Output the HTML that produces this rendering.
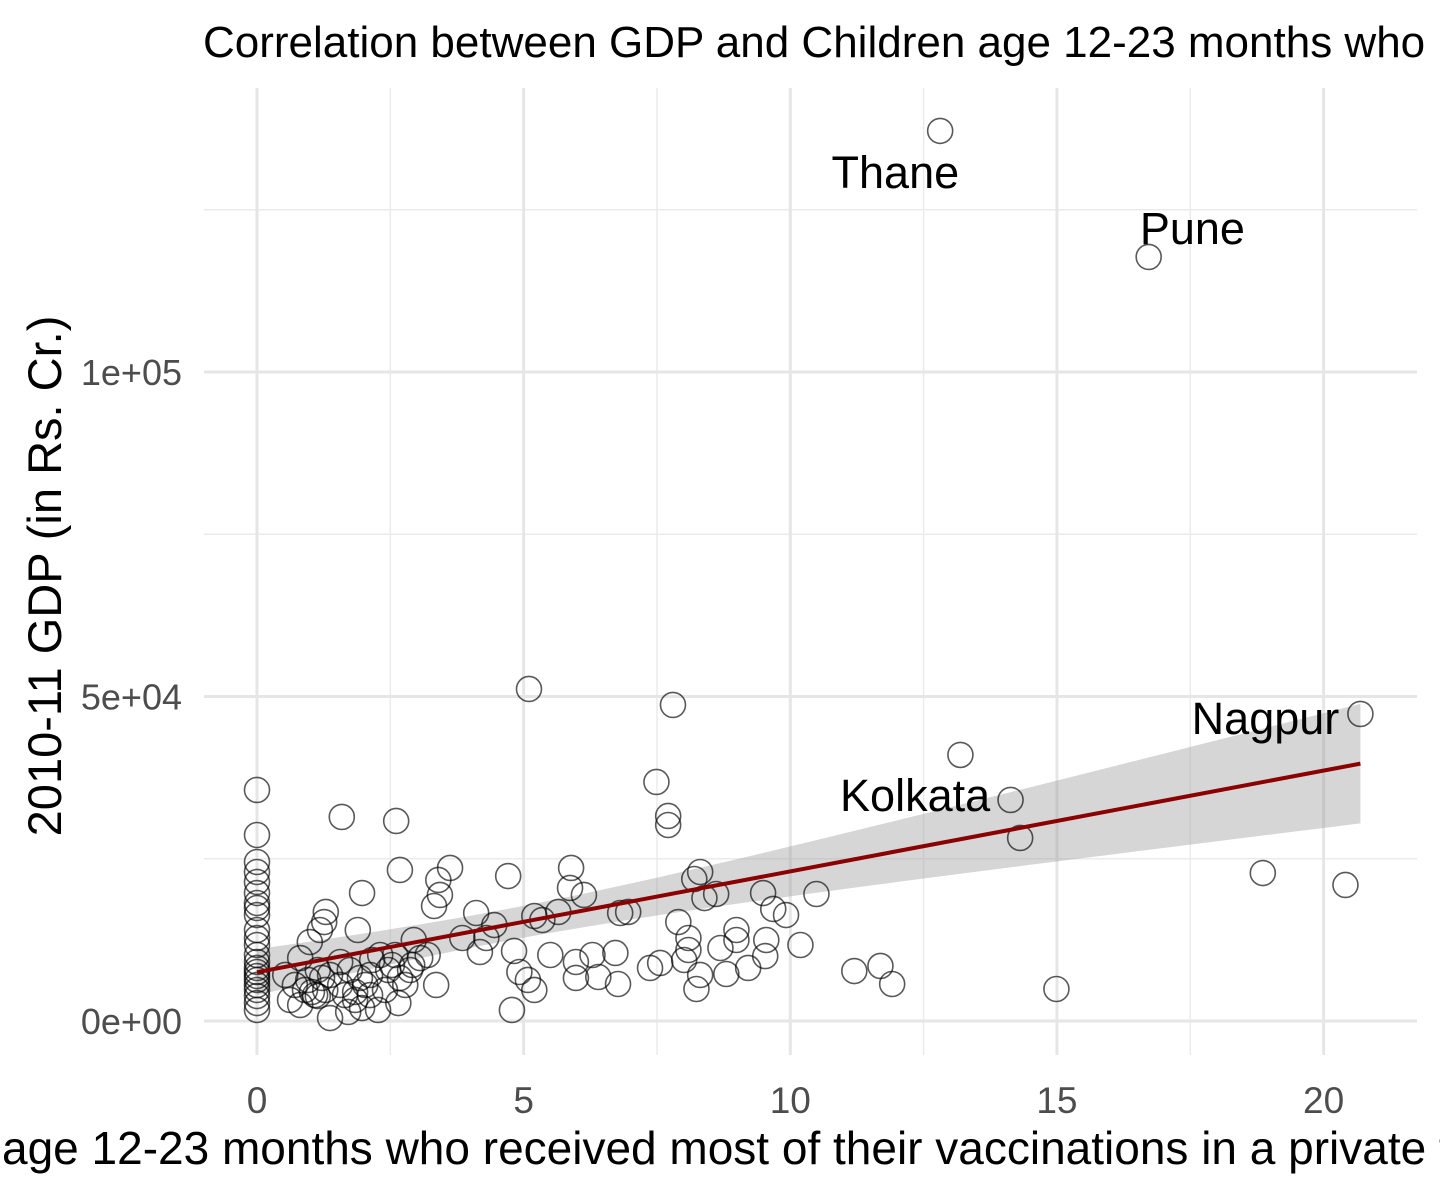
<!DOCTYPE html>
<html><head><meta charset="utf-8"><style>
html,body{margin:0;padding:0;background:#fff;}
svg{display:block;font-family:"Liberation Sans",sans-serif;}
</style></head><body>
<svg id="chart" width="1440" height="1195" viewBox="0 0 1440 1195">
<g id="grid"></g>
<g id="band"></g>
<g id="points"></g>
<g id="labels"></g>
<g id="axes"></g>
<text x="203" y="57" font-size="44" fill="#000">Correlation between GDP and Children age 12-23 months who received most of their vaccinations in a private facility</text>
<text x="2" y="1164" font-size="46" fill="#000">age 12-23 months who received most of their vaccinations in a private facility</text>
<text transform="translate(61,576) rotate(-90)" text-anchor="middle" font-size="47" fill="#000">2010-11 GDP (in Rs. Cr.)</text>
</svg>
<script>
const xVals = [12.81,16.72,20.69,14.13,14.31,13.19,18.86,20.41,14.99,5.10,7.80,7.49,7.71,7.71,11.2,11.69,11.91,10.49,10.19,9.92,9.68,9.55,9.49,9.53,9.21,8.99,8.99,8.8,8.69,8.31,8.24,8.31,8.2,8.39,8.61,7.9,8.09,8.09,8.01,7.56,7.37,6.96,6.81,6.77,6.72,6.4,6.29,5.98,5.98,5.89,5.87,6.13,5.65,5.5,5.35,5.2,5.2,5.08,4.92,4.78,4.82,4.71,4.45,4.3,4.18,4.11,3.85,3.62,3.43,3.4,3.32,3.36,3.2,2.94,2.68,2.61,1.59,1.97,1.89,1.29,1.26,1.18,0.99,
0,0,0,0,0,0,0,0,0,0,0,0,0,0,0,0,0,0,0,0,0,0,0,
0.62,0.81,0.9,1.09,1.22,1.37,1.56,1.71,1.84,1.97,2.12,2.27,2.4,2.53,2.65,2.78,2.91,3.06,2.16,2.31,2.59,2.46,1.74,1.56,1.37,1.14,0.96,0.71,0.53,1.28,1.14,1.03,1.84,2.03,2.12,1.65,1.93,2.68,2.87,0.81];
const yVals = [137150,117730,47310,34060,28200,41000,22800,20960,4930,51160,48700,36830,31590,30200,7700,8480,5700,19570,11710,16330,17260,12480,19720,10000,8170,12480,14020,7240,11250,7090,4930,22960,21880,18950,19570,15250,12790,10940,9400,8940,8170,16800,16640,5700,10480,6780,10170,6630,9090,23580,20500,19420,16800,10170,15560,16180,4780,6320,7550,1700,10790,22340,14790,12790,10630,16640,12790,23580,19420,21730,17720,5550,10170,12480,23270,30820,31440,19720,14020,16800,15250,14020,12170,
35600,28660,24500,22960,21420,19720,18180,17410,16330,14020,12790,11710,10170,9090,8170,7550,6930,6320,5550,4780,3850,2770,1700,
3240,2470,4780,4000,6630,460,5550,1390,4470,2000,7090,1700,4780,8630,2770,5550,8630,9700,9400,10170,10170,7860,7860,9090,7090,7860,6320,5550,7090,4780,3850,4470,3240,5550,4000,4000,6630,6630,7860,9700];
const labelNames = ["Thane","Pune","Nagpur","Kolkata"];
const labelX = [11.97,17.54,18.91,12.34];
const labelY = [130830,122200,46690,34830];
const xTicks = [0,5,10,15,20];
const xMinor = [2.5,7.5,12.5,17.5];
const yTicks = [0,50000,100000];
const yTickLabels = ["0e+00","5e+04","1e+05"];
const yMinor = [25000,75000,125000];

const NS="http://www.w3.org/2000/svg";
const X0=204,X1=1417,Y0=88,Y1=1055;
const sx=v=>257+v*53.33;
const sy=v=>1021-v*(324.5/50000);
function mk(tag,attrs,parent){const e=document.createElementNS(NS,tag);for(const k in attrs)e.setAttribute(k,attrs[k]);parent.appendChild(e);return e;}
const grid=document.getElementById('grid');
xMinor.forEach(t=>{const l=mk('line',{x1:sx(t),x2:sx(t),y1:Y0,y2:Y1,stroke:'#ebebeb','stroke-width':1.5},grid);

});
yMinor.forEach(t=>{const l=mk('line',{x1:X0,x2:X1,y1:sy(t),y2:sy(t),stroke:'#ebebeb','stroke-width':1.5},grid);

});
const axes=document.getElementById('axes');
xTicks.forEach(t=>{const l=mk('line',{x1:sx(t),x2:sx(t),y1:Y0,y2:Y1,stroke:'#e6e6e6','stroke-width':3},grid);


const tx=mk('text',{x:sx(t),y:1113,'text-anchor':'middle','font-size':37,fill:'#4d4d4d'},axes);tx.textContent=t;

});
yTicks.forEach((t,i)=>{const l=mk('line',{x1:X0,x2:X1,y1:sy(t),y2:sy(t),stroke:'#e6e6e6','stroke-width':3},grid);


const tx=mk('text',{x:182,y:sy(t)+13,'text-anchor':'end','font-size':36,fill:'#4d4d4d'},axes);tx.textContent=yTickLabels[i];

});
// regression
const n=xVals.length;let mx=0,my=0;for(let i=0;i<n;i++){mx+=xVals[i];my+=yVals[i];}mx/=n;my/=n;
let sxx=0,sxy=0;for(let i=0;i<n;i++){sxx+=(xVals[i]-mx)**2;sxy+=(xVals[i]-mx)*(yVals[i]-my);}
const b=sxy/sxx,a=my-b*mx;let sse=0;for(let i=0;i<n;i++)sse+=(yVals[i]-a-b*xVals[i])**2;
const s=Math.sqrt(sse/(n-2));const xmax=Math.max(...xVals),xmin=Math.min(...xVals);
const up=[],lo=[];for(let k=0;k<=60;k++){const x=xmin+(xmax-xmin)*k/60;const yh=a+b*x;const se=s*Math.sqrt(1/n+(x-mx)**2/sxx)*1.97;up.push(sx(x)+','+sy(yh+se));lo.unshift(sx(x)+','+sy(yh-se));}
const band=document.getElementById('band');
const poly=mk('polygon',{points:up.concat(lo).join(' '),fill:'#999','fill-opacity':0.4},band);


const pts=document.getElementById('points');
for(let i=0;i<n;i++){const c=mk('circle',{cx:sx(xVals[i]),cy:sy(yVals[i]),r:12.5,fill:'none',stroke:'#000','stroke-opacity':0.65,'stroke-width':1.6},pts);

}
const rl=mk('line',{x1:sx(xmin),y1:sy(a+b*xmin),x2:sx(xmax),y2:sy(a+b*xmax),stroke:'#8b0000','stroke-width':4},band.parentNode);


const lab=document.getElementById('labels');
labelNames.forEach((nm,i)=>{const t=mk('text',{x:sx(labelX[i]),y:sy(labelY[i])+16,'text-anchor':'middle','font-size':45,fill:'#000'},lab);t.textContent=nm;

});
</script>
</body></html>
